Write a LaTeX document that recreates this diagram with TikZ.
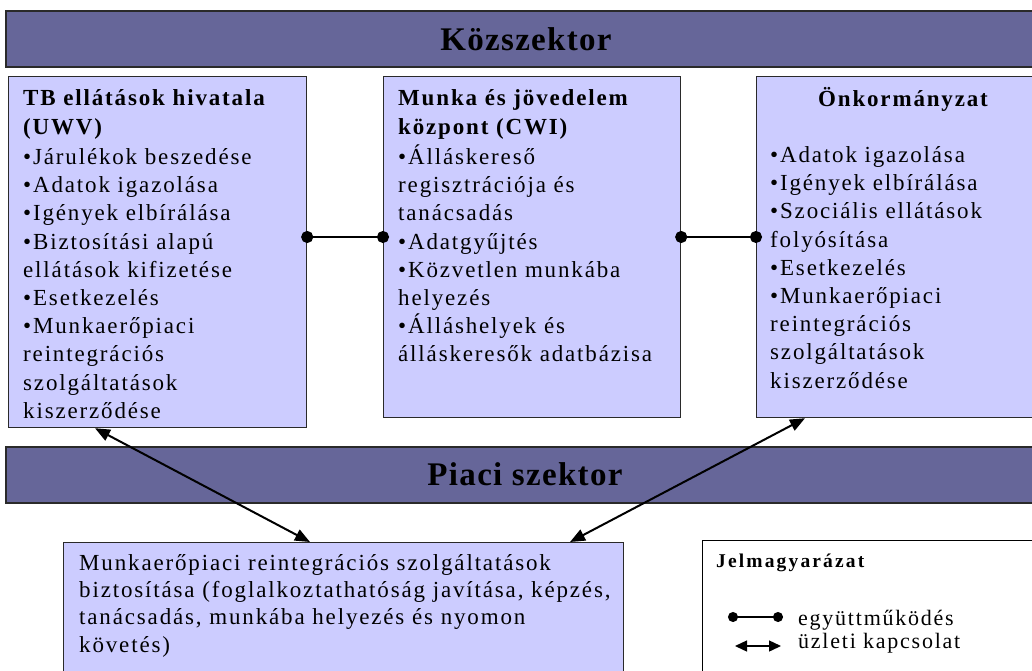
\documentclass[tikz,border=0pt]{standalone}
\usepackage{fontspec}
\setmainfont{Liberation Serif}
\newfontfamily\bodyfont{Liberation Serif}[LetterSpace=8]
\newfontfamily\legheadfont{Liberation Serif}[LetterSpace=11]
\newfontfamily\titlefont{Liberation Serif}[LetterSpace=4]
\usetikzlibrary{arrows.meta,calc}
\definecolor{bandfill}{HTML}{666699}
\definecolor{boxfill}{HTML}{CCCCFF}
\definecolor{edge}{HTML}{2A2A2A}
\tikzset{
  band/.style={draw=edge, line width=1.6pt, fill=bandfill, minimum height=56pt, minimum width=1040pt,
    inner sep=0pt, anchor=north west},
  bandtext/.style={anchor=base, inner sep=0pt, font=\titlefont\fontsize{33}{36}\selectfont\bfseries},
  box/.style={draw=edge, line width=1.2pt, fill=boxfill, inner sep=0pt, anchor=north west},
  legendbox/.style={draw=black, line width=1pt, fill=white, inner sep=0pt, anchor=north west},
  txt/.style={anchor=base west, inner sep=0pt, align=left, text width=290pt,
    font=\bodyfont\fontsize{23}{28.2}\selectfont},
  head/.style={anchor=base, inner sep=0pt, font=\bodyfont\fontsize{23}{28.2}\selectfont\bfseries},
  legtxt/.style={anchor=base west, inner sep=0pt, font=\bodyfont\fontsize{22}{23}\selectfont},
  leghead/.style={anchor=base west, inner sep=0pt, font=\legheadfont\fontsize{19.5}{21}\selectfont\bfseries},
  coop/.style={line width=2.6pt, {Circle[length=12pt]}-{Circle[length=12pt]}, shorten <=-6pt, shorten >=-6pt},
  biz/.style={line width=2pt, {Triangle[length=15pt,width=12pt]}-{Triangle[length=15pt,width=12pt]}},
  legcoop/.style={line width=1.4pt, {Circle[length=10pt]}-{Circle[length=10pt]}, shorten <=-5pt, shorten >=-5pt},
  legbiz/.style={line width=1.4pt, {Triangle[length=12pt,width=11pt]}-{Triangle[length=12pt,width=11pt]}}
}
\begin{document}
\begin{tikzpicture}[x=1pt,y=-1pt]
\useasboundingbox (0,0) rectangle (1032,671);
\clip (0,0) rectangle (1032,671);
\fill[white] (0,0) rectangle (1032,671);

% bands
\node[band] (kozszektor) at (5,10) {};
\node[band] (piaci) at (5,446) {};
\node[bandtext] (kozt) at (526,51) {Közszektor};
\node[bandtext] (piacit) at (525,485) {Piaci szektor};

% boxes
\node[box, minimum width=298pt, minimum height=351pt] (tb) at (8,76) {};
\node[box, minimum width=297pt, minimum height=341pt] (cwi) at (383,76) {};
\node[box, minimum width=297pt, minimum height=341pt] (onk) at (756,76) {};
\node[box, minimum width=560pt, minimum height=140pt] (bottom) at (63,542) {};
\node[legendbox, minimum width=340pt, minimum height=140pt] (legend) at (702,540) {};

% texts
\node[txt] (tbtext) at ([shift={(15,29.5)}]tb.north west)
  {{\bfseries TB ellátások hivatala\\[1.3pt](UWV)}\\[1.3pt]
   •Járulékok beszedése\\
   •Adatok igazolása\\
   •Igények elbírálása\\
   •Biztosítási alapú\\
   ellátások kifizetése\\
   •Esetkezelés\\
   •Munkaerőpiaci\\
   reintegrációs\\
   szolgáltatások\\
   kiszerződése};
\node[txt] (cwitext) at ([shift={(15,29.5)}]cwi.north west)
  {{\bfseries Munka és jövedelem\\[1.3pt]központ (CWI)}\\[1.3pt]
   •Álláskereső\\
   regisztrációja és\\
   tanácsadás\\
   •Adatgyűjtés\\
   •Közvetlen munkába\\
   helyezés\\
   •Álláshelyek és\\
   álláskeresők adatbázisa};
\node[head] (onkhead) at ([shift={(147,31)}]onk.north west) {Önkormányzat};
\node[txt] (onktext) at ([shift={(14,86.5)}]onk.north west)
  {•Adatok igazolása\\
   •Igények elbírálása\\
   •Szociális ellátások\\
   folyósítása\\
   •Esetkezelés\\
   •Munkaerőpiaci\\
   reintegrációs\\
   szolgáltatások\\
   kiszerződése};
\node[txt, text width=555pt, font=\bodyfont\fontsize{23}{27.4}\selectfont] (bottomtext) at ([shift={(16,28)}]bottom.north west)
  {Munkaerőpiaci reintegrációs szolgáltatások\\
   biztosítása (foglalkoztathatóság javítása, képzés,\\
   tanácsadás, munkába helyezés és nyomon\\
   követés)};

% legend
\node[leghead] (legtitle) at ([shift={(14,27)}]legend.north west) {Jelmagyarázat};
\coordinate (l1a) at (733,617);
\coordinate (l1b) at (778,617);
\coordinate (l2a) at (735,646);
\coordinate (l2b) at (781,646);
\draw[legcoop] (l1a) -- (l1b);
\draw[legbiz] (l2a) -- (l2b);
\node[legtxt] (legcoopt) at (798,625) {együttműködés};
\node[legtxt] (legbizt) at (798,648) {üzleti kapcsolat};

% connectors
\draw[coop] ([yshift=-161pt]tb.north east) -- ([yshift=-161pt]cwi.north west);
\draw[coop] ([yshift=-161pt]cwi.north east) -- ([yshift=-161pt]onk.north west);
\draw[biz] ([xshift=87pt]tb.south west) -- ([xshift=247pt]bottom.north west);
\draw[biz] ([xshift=49pt]onk.south west) -- ([xshift=507pt]bottom.north west);
\end{tikzpicture}
\end{document}
